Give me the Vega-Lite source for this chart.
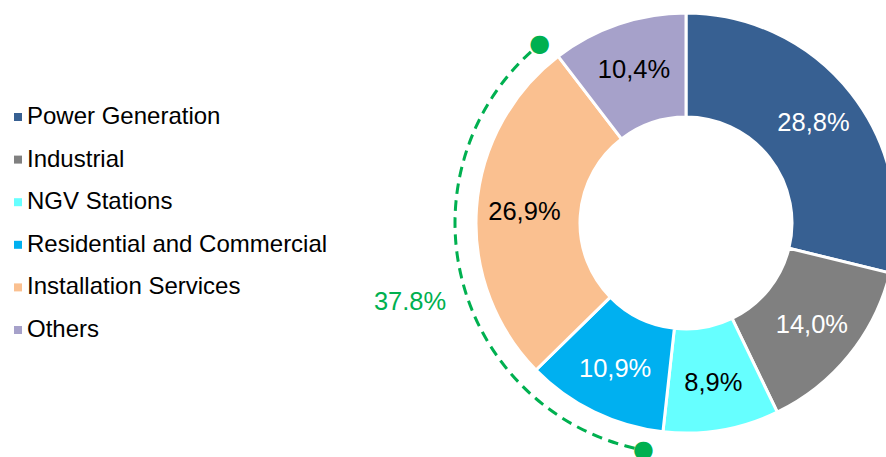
{
  "$schema": "https://vega.github.io/schema/vega-lite/v6.json",
  "width": 400,
  "height": 446,
  "autosize": {"type": "none"},
  "padding": {"left": 486, "top": 0, "right": 0, "bottom": 11},
  "background": "white",
  "config": {"view": {"stroke": null}, "font": "Liberation Sans"},
  "datasets": {
    "shares": [
      {"category": "Power Generation", "share": 28.8, "label": "28,8%", "idx": 1},
      {"category": "Industrial", "share": 14.0, "label": "14,0%", "idx": 2},
      {"category": "NGV Stations", "share": 8.9, "label": "8,9%", "idx": 3},
      {"category": "Residential and Commercial", "share": 10.9, "label": "10,9%", "idx": 4},
      {"category": "Installation Services", "share": 26.9, "label": "26,9%", "idx": 5},
      {"category": "Others", "share": 10.4, "label": "10,4%", "idx": 6}
    ],
    "bracket": [
      {"start": 52.9, "end": 89.0, "label": "37.8%"}
    ]
  },
  "layer": [
    {
      "data": {"name": "shares"},
      "mark": {"type": "arc", "radius": 210, "radius2": 106, "stroke": "white", "strokeWidth": 3},
      "encoding": {
        "theta": {"field": "share", "type": "quantitative", "stack": true, "scale": {"domain": [0, 99.9]}},
        "order": {"field": "idx", "type": "quantitative"},
        "color": {
          "field": "category",
          "type": "nominal",
          "scale": {
            "domain": ["Power Generation", "Industrial", "NGV Stations", "Residential and Commercial", "Installation Services", "Others"],
            "range": ["#376092", "#808080", "#66FFFF", "#00B0F0", "#FAC090", "#A6A1CA"]
          },
          "legend": {
            "orient": "none",
            "legendX": -480,
            "legendY": 105,
            "title": null,
            "symbolType": "square",
            "symbolSize": 64,
            "symbolStrokeWidth": 0,
            "labelFontSize": 24,
            "labelFont": "Liberation Sans",
            "labelColor": "black",
            "rowPadding": 18.6,
            "labelOffset": -3,
            "padding": 0,
            "labelLimit": 400
          }
        }
      }
    },
    {
      "data": {"name": "shares"},
      "mark": {"type": "text", "radius": 162, "fontSize": 25.5, "font": "Liberation Sans"},
      "encoding": {
        "theta": {"field": "share", "type": "quantitative", "stack": true},
        "order": {"field": "idx", "type": "quantitative"},
        "text": {"field": "label"},
        "color": {
          "condition": {"test": "indexof(['Power Generation','Industrial','Residential and Commercial'], datum.category) >= 0", "value": "white"},
          "value": "black"
        }
      }
    },
    {
      "data": {"name": "bracket"},
      "mark": {"type": "arc", "radius": 231, "radius2": 231, "filled": false, "stroke": "#00B050", "strokeWidth": 3, "strokeDash": [10, 7], "strokeDashOffset": 7.5},
      "encoding": {
        "theta": {"field": "start", "type": "quantitative"},
        "theta2": {"field": "end"}
      }
    },
    {
      "data": {"name": "bracket"},
      "mark": {"type": "text", "text": "●", "radius": 231, "fontSize": 24, "font": "DejaVu Sans", "color": "#00B050"},
      "encoding": {
        "theta": {"field": "start", "type": "quantitative"}
      }
    },
    {
      "data": {"name": "bracket"},
      "mark": {"type": "text", "text": "●", "radius": 231, "fontSize": 24, "font": "DejaVu Sans", "color": "#00B050"},
      "encoding": {
        "theta": {"field": "end", "type": "quantitative"}
      }
    },
    {
      "data": {"name": "bracket"},
      "mark": {"type": "text", "radius": 287, "fontSize": 25.5, "font": "Liberation Sans", "color": "#00B050"},
      "encoding": {
        "theta": {"datum": 70.5, "type": "quantitative"},
        "text": {"field": "label"}
      }
    }
  ]
}
